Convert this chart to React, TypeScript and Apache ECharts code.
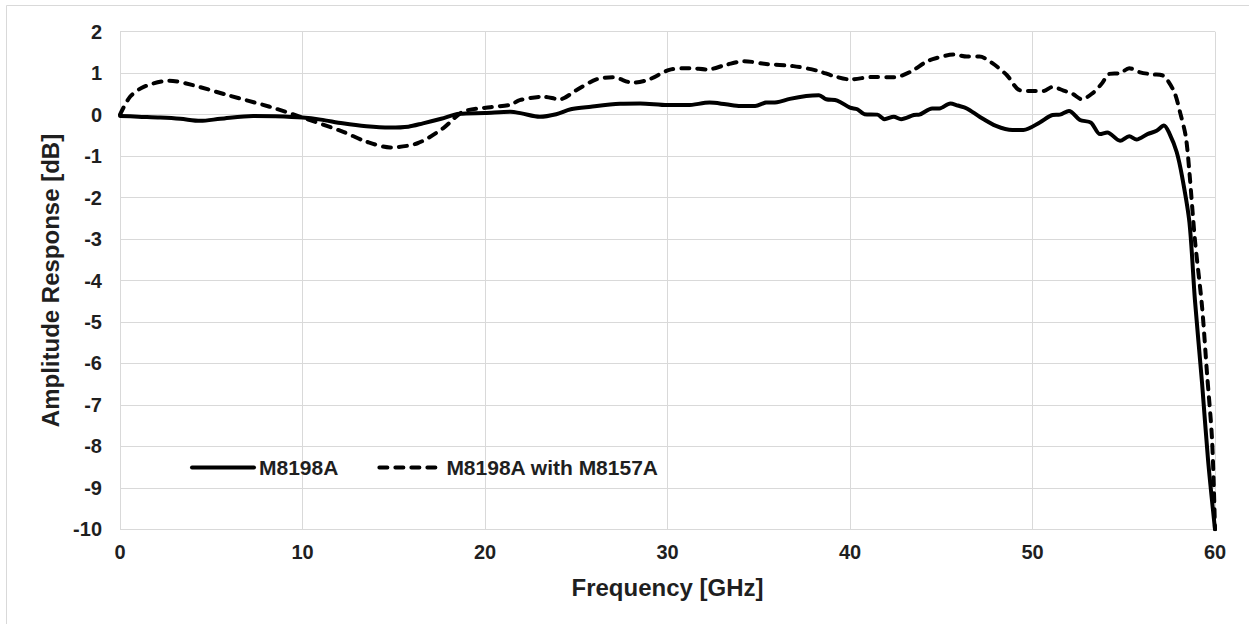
import React, { useEffect, useRef } from "react";
import * as echarts from "echarts";

const seriesNames = ["M8198A", "M8198A with M8157A"];

const freqSolid = [0, 1, 2.2, 3.3, 4.4, 5.5, 7.3, 8.5, 10, 11, 12.2, 13.5, 14.8, 15.8, 16.6, 17.6, 18.6, 20, 21.4, 22.0, 23.0, 23.9, 24.7, 25.8, 27.4, 28.5, 30.0, 31.1, 32.3, 33.2, 34.0, 34.8, 35.4, 36.0, 36.7, 37.6, 38.3, 38.7, 39.3, 40.0, 40.4, 40.8, 41.5, 41.9, 42.4, 42.8, 43.5, 43.8, 44.5, 44.9, 45.5, 45.9, 46.4, 47.1, 48.0, 48.9, 49.5, 50.4, 51.1, 51.5, 52.0, 52.6, 53.2, 53.7, 54.1, 54.8, 55.3, 55.7, 56.3, 56.8, 57.2, 57.5, 57.9, 58.2, 58.6, 58.9, 59.29, 59.62, 60];
const ampSolid = [-0.03, -0.05, -0.07, -0.1, -0.15, -0.1, -0.03, -0.04, -0.07, -0.12, -0.21, -0.28, -0.31, -0.29, -0.21, -0.1, 0.02, 0.04, 0.07, 0.03, -0.05, 0.01, 0.13, 0.19, 0.26, 0.27, 0.23, 0.23, 0.29, 0.25, 0.21, 0.21, 0.29, 0.30, 0.38, 0.45, 0.47, 0.37, 0.34, 0.17, 0.13, 0.01, 0.0, -0.11, -0.05, -0.11, -0.01, 0.0, 0.15, 0.15, 0.27, 0.22, 0.15, -0.05, -0.27, -0.37, -0.37, -0.19, -0.01, 0.0, 0.09, -0.13, -0.19, -0.47, -0.43, -0.63, -0.52, -0.6, -0.47, -0.39, -0.26, -0.45, -0.9, -1.5, -2.6, -4.47, -6.47, -8.33, -10];

const freqDashed = [0, 0.55, 1.3, 2.7, 4.0, 5.9, 8.2, 10, 12.2, 13.5, 14.8, 16.3, 17.7, 18.8, 20.3, 21.4, 21.9, 23.2, 24.1, 25.0, 26.1, 27.0, 28.1, 29.0, 30.1, 31.2, 32.2, 33.2, 34.2, 35.4, 36.9, 38.2, 39.1, 40.0, 41.3, 42.4, 43.3, 44.2, 44.7, 45.7, 46.4, 47.1, 47.8, 48.6, 49.3, 50.0, 50.6, 51.1, 51.7, 52.2, 52.7, 53.3, 53.8, 54.2, 54.8, 55.3, 55.9, 56.6, 57.1, 57.4, 57.8, 58.1, 58.4, 58.6, 58.9, 59.29, 59.56, 59.84, 60];
const ampDashed = [0.0, 0.43, 0.67, 0.82, 0.71, 0.47, 0.19, -0.07, -0.41, -0.65, -0.79, -0.69, -0.33, 0.07, 0.18, 0.24, 0.35, 0.43, 0.37, 0.59, 0.85, 0.9, 0.77, 0.85, 1.08, 1.12, 1.09, 1.2, 1.29, 1.22, 1.17, 1.06, 0.93, 0.85, 0.91, 0.9, 1.03, 1.28, 1.36, 1.45, 1.4, 1.4, 1.24, 0.95, 0.59, 0.57, 0.57, 0.67, 0.58, 0.5, 0.37, 0.52, 0.75, 0.98, 1.0, 1.12, 1.02, 0.97, 0.95, 0.83, 0.51, 0.03, -0.53, -1.4, -3.02, -4.63, -6.23, -7.85, -10];

const xTicks = { min: 0, max: 60, interval: 10 };
const yTicks = { min: -10, max: 2, interval: 1 };

const FONT = "Liberation Sans, Arial, sans-serif";
const TXT = "#1f1f1f";

export default function App() {
  const ref = useRef<HTMLDivElement>(null);
  useEffect(() => {
    if (!ref.current) return;
    const chart = echarts.init(ref.current, undefined, { renderer: "svg" });
    const solidData = freqSolid.map((f, i) => [f, ampSolid[i]]);
    const dashedData = freqDashed.map((f, i) => [f, ampDashed[i]]);
    chart.setOption({
      animation: false,
      backgroundColor: "#ffffff",
      graphic: [
        {
          type: "rect",
          shape: { x: 6.5, y: 5.5, width: 1300, height: 700 },
          style: { fill: "none", stroke: "#d9d9d9", lineWidth: 1 },
          silent: true,
        },
      ],
      grid: { left: 120, right: 34, top: 31.7, bottom: 94.7 },
      legend: {
        left: 185,
        top: 452,
        itemWidth: 62,
        itemHeight: 14,
        itemGap: 39,
        itemStyle: { opacity: 0, color: "transparent", borderWidth: 0 },
        lineStyle: { width: 4, cap: "round" },
        textStyle: { fontFamily: FONT, fontSize: 21, fontWeight: "bold", color: TXT },
        data: seriesNames,
      },
      xAxis: {
        type: "value",
        min: xTicks.min,
        max: xTicks.max,
        interval: xTicks.interval,
        name: "Frequency [GHz]",
        nameLocation: "middle",
        nameGap: 46,
        nameTextStyle: { fontFamily: FONT, fontSize: 24, fontWeight: "bold", color: TXT },
        axisLine: { lineStyle: { color: "#d9d9d9", width: 1 } },
        axisTick: { show: false },
        axisLabel: { margin: 13, fontFamily: FONT, fontSize: 20, fontWeight: "bold", color: TXT },
        splitLine: { show: true, lineStyle: { color: "#d9d9d9", width: 1 } },
      },
      yAxis: {
        type: "value",
        min: yTicks.min,
        max: yTicks.max,
        interval: yTicks.interval,
        name: "Amplitude Response [dB]",
        nameLocation: "middle",
        nameGap: 51,
        nameTextStyle: { fontFamily: FONT, fontSize: 24, fontWeight: "bold", color: TXT },
        axisLine: { show: true, lineStyle: { color: "#d9d9d9", width: 1 } },
        axisTick: { show: false },
        axisLabel: { margin: 18, fontFamily: FONT, fontSize: 20, fontWeight: "bold", color: TXT },
        splitLine: { show: true, lineStyle: { color: "#d9d9d9", width: 1 } },
      },
      series: [
        {
          name: seriesNames[0],
          type: "line",
          data: solidData,
          showSymbol: false,
          symbol: "none",
          smooth: 0.3,
          lineStyle: { color: "#000000", width: 4, cap: "round", join: "round" },
          itemStyle: { color: "#000000" },
          clip: true,
          z: 3,
        },
        {
          name: seriesNames[1],
          type: "line",
          data: dashedData,
          showSymbol: false,
          symbol: "none",
          smooth: 0.3,
          lineStyle: { color: "#000000", width: 4, type: [8, 8], cap: "round", join: "round" },
          itemStyle: { color: "#000000" },
          clip: true,
          z: 2,
        },
      ],
    });
    return () => chart.dispose();
  }, []);
  return (
    <div
      ref={ref}
      style={{ position: "absolute", left: 0, top: 0, width: 1249, height: 624, background: "#fff" }}
    />
  );
}
